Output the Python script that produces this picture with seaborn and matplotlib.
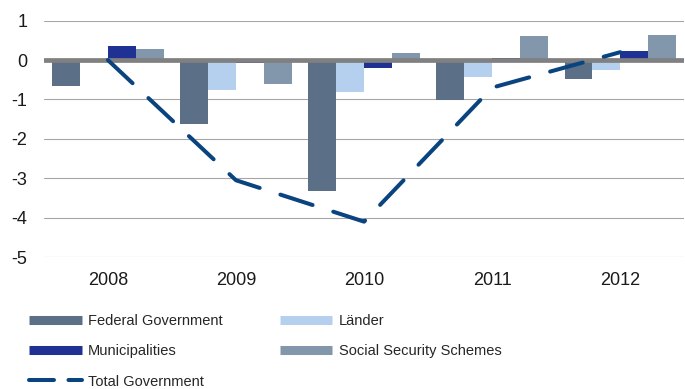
import numpy as np
import pandas as pd
import matplotlib
matplotlib.use('Agg')
import matplotlib.pyplot as plt
from matplotlib.lines import Line2D
import seaborn as sns

# values (% of GDP)
years = ['2008', '2009', '2010', '2011', '2012']
federal = [-0.67, -1.62, -3.31, -1.02, -0.47]
laender = [-0.02, -0.77, -0.80, -0.44, -0.26]
municipalities = [0.36, -0.07, -0.20, 0.05, 0.22]
social_security = [0.27, -0.60, 0.17, 0.62, 0.64]
total_government = [0.0, -3.05, -4.10, -0.70, 0.20]

sectors = ['Federal Government', 'Länder', 'Municipalities', 'Social Security Schemes']
colors = ['#5b7086', '#b4d0ee', '#1f3193', '#8297ab']
line_color = '#0a4480'
yticks = [-5, -4, -3, -2, -1, 0, 1]

df = pd.DataFrame({
    'Year': years * 4,
    'Sector': [s for s in sectors for _ in years],
    'Value': federal + laender + municipalities + social_security,
})

sns.set_style('white')
plt.rcParams['font.family'] = ['Liberation Sans', 'DejaVu Sans']
plt.rcParams['axes.unicode_minus'] = False

fig, ax = plt.subplots(figsize=(6.85, 3.89), dpi=100)
fig.subplots_adjust(left=0.064, right=0.999, top=0.947, bottom=0.339)

sns.barplot(data=df, x='Year', y='Value', hue='Sector', hue_order=sectors,
            palette=colors, width=0.87, saturation=1, linewidth=0,
            legend=False, ax=ax, zorder=2)

ax.axhline(0, color='#808080', lw=3.4, zorder=3)

sns.lineplot(x=np.arange(len(years)), y=total_government, ax=ax,
             color=line_color, lw=2.9, linestyle=(0, (8.4, 5.4)),
             dash_capstyle='round', dash_joinstyle='round', zorder=4)

ax.set_ylim(-5, 1)
ax.set_xlim(-0.5, len(years) - 0.5)
ax.set_yticks(yticks)
ax.set_yticklabels([str(t) for t in yticks])
ax.set_xticks(range(len(years)))
ax.set_xticklabels(years)
ax.set_xlabel('')
ax.set_ylabel('')
ax.yaxis.grid(True, color='#a6a6a6', lw=0.8)
ax.set_axisbelow(True)
for sp in ax.spines.values():
    sp.set_visible(False)
ax.tick_params(axis='both', length=0, labelsize=13, colors='#1a1a1a')
ax.tick_params(axis='y', pad=12)
ax.tick_params(axis='x', pad=11)

handles = [
    Line2D([], [], color=colors[0], lw=6.5, solid_capstyle='butt'),
    Line2D([], [], color=colors[2], lw=6.5, solid_capstyle='butt'),
    Line2D([], [], color=line_color, lw=2.9, linestyle=(0, (6.2, 3.6)),
           dash_capstyle='round'),
    Line2D([], [], color=colors[1], lw=6.5, solid_capstyle='butt'),
    Line2D([], [], color=colors[3], lw=6.5, solid_capstyle='butt'),
]
labels = [sectors[0], sectors[2], 'Total Government', sectors[1], sectors[3]]
fig.legend(handles, labels, loc='upper left', bbox_to_anchor=(29 / 685, 0.193),
           ncol=2, frameon=False, fontsize=10.5, handlelength=3.6,
           handletextpad=0.45, columnspacing=3.9, labelspacing=1.12,
           borderpad=0, borderaxespad=0)

fig.savefig('out.png', dpi=100)
